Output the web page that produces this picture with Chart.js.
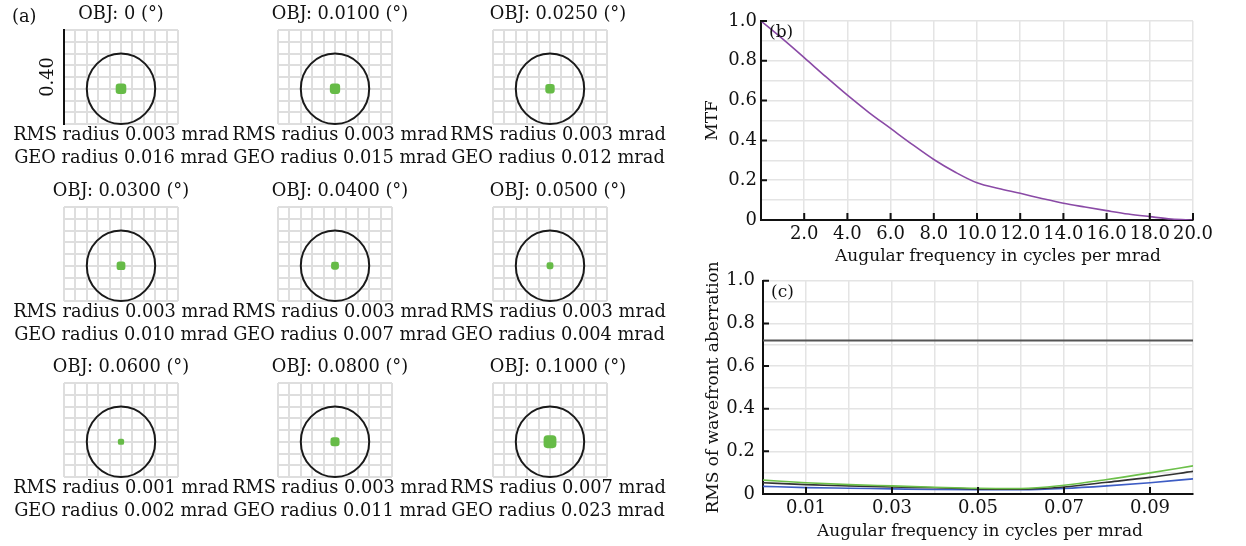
<!DOCTYPE html>
<html>
<head>
<meta charset="utf-8">
<script src="https://cdn.jsdelivr.net/npm/chart.js@4.4.0/dist/chart.umd.min.js"></script>
<style>
  body { margin: 0; background: #fff; width: 1246px; height: 546px; overflow: hidden; position: relative; }
  canvas { position: absolute; }
</style>
</head>
<body>
<script>
// (a) spot diagrams, one per field angle
const spotFields = ['0', '0.0100', '0.0250', '0.0300', '0.0400', '0.0500', '0.0600', '0.0800', '0.1000'];
const rmsRadius = [0.003, 0.003, 0.003, 0.003, 0.003, 0.003, 0.001, 0.003, 0.007];
const geoRadius = [0.016, 0.015, 0.012, 0.010, 0.007, 0.004, 0.002, 0.011, 0.023];
const airyRadius = 0.12;
const spotGridX = [-0.2, -0.16, -0.12, -0.08, -0.04, 0, 0.04, 0.08, 0.12, 0.16, 0.2];
const spotGridY = [-0.12, -0.08, -0.04, 0, 0.04, 0.08, 0.12, 0.16, 0.2];

// (b) MTF
const mtfFreq = [0, 1, 2, 3, 4, 5, 6, 7, 8, 9, 10, 11, 12, 13, 14, 15, 16, 17, 18, 19, 20];
const mtfValue = [1.0, 0.91, 0.816, 0.72, 0.627, 0.54, 0.46, 0.38, 0.304, 0.24, 0.187, 0.158, 0.134, 0.108, 0.084, 0.065, 0.047, 0.03, 0.017, 0.005, 0.0];
const mtfXTicks = [0, 2, 4, 6, 8, 10, 12, 14, 16, 18, 20];
const mtfXLabels = ['', '2.0', '4.0', '6.0', '8.0', '10.0', '12.0', '14.0', '16.0', '18.0', '20.0'];

// (c) RMS wavefront
const rmsX = [0, 0.01, 0.02, 0.03, 0.04, 0.05, 0.06, 0.07, 0.08, 0.09, 0.1];
const rmsGreen = [0.065, 0.053, 0.044, 0.038, 0.032, 0.027, 0.026, 0.041, 0.068, 0.099, 0.132];
const rmsBlack = [0.053, 0.044, 0.038, 0.033, 0.029, 0.024, 0.023, 0.033, 0.055, 0.078, 0.106];
const rmsBlue = [0.036, 0.030, 0.027, 0.024, 0.021, 0.020, 0.020, 0.026, 0.038, 0.053, 0.071];
const rmsLimit = 0.72;
const rmsXTicks = [0, 0.01, 0.02, 0.03, 0.04, 0.05, 0.06, 0.07, 0.08, 0.09, 0.1];
const rmsXLabels = ['', '0.01', '', '0.03', '', '0.05', '', '0.07', '', '0.09', ''];

const yGridTicks = [0, 0.1, 0.2, 0.3, 0.4, 0.5, 0.6, 0.7, 0.8, 0.9, 1.0];
const yGridLabels = ['0', '', '0.2', '', '0.4', '', '0.6', '', '0.8', '', '1.0'];

const FONT = 'DejaVu Serif';
const INK = '#111';

function makeCanvas(left, top, w, h) {
  const c = document.createElement('canvas');
  c.width = w; c.height = h;
  c.style.left = left + 'px'; c.style.top = top + 'px';
  document.body.appendChild(c);
  return c;
}

function fixedTicks(values) {
  return scale => { scale.ticks = values.map(v => ({ value: v })); };
}

// ring + captions for each spot cell
const spotDecor = {
  id: 'spotDecor',
  beforeDatasetsDraw(chart, args, o) {
    const { ctx } = chart;
    const { x, y } = chart.scales;
    const cx = x.getPixelForValue(0), cy = y.getPixelForValue(0);
    const rx = x.getPixelForValue(o.ring) - cx;
    const ry = cy - y.getPixelForValue(o.ring);
    ctx.save();
    ctx.beginPath();
    ctx.ellipse(cx, cy, rx, ry, 0, 0, Math.PI * 2);
    ctx.strokeStyle = '#1a1a1a';
    ctx.lineWidth = 2;
    ctx.stroke();
    ctx.restore();
  },
  afterDraw(chart, args, o) {
    const { ctx, chartArea: a } = chart;
    const mid = (a.left + a.right) / 2 + o.dx;
    ctx.save();
    ctx.fillStyle = INK;
    ctx.textAlign = 'center';
    ctx.textBaseline = 'middle';
    ctx.font = '17.8px "' + FONT + '"';
    ctx.fillText(o.title, mid, a.top - 16);
    ctx.fillText(o.lines[0], mid, a.bottom + 11);
    ctx.fillText(o.lines[1], mid, a.bottom + 34);
    if (o.tag) {
      ctx.textAlign = 'left';
      ctx.fillText(o.tag, 11, 17);
    }
    if (o.size) {
      ctx.translate(a.left - 16, (a.top + a.bottom) / 2);
      ctx.rotate(-Math.PI / 2);
      ctx.textAlign = 'center';
      ctx.fillText(o.size, 0, 0);
    }
    ctx.restore();
  }
};

const colLeft = [1, 215, 430];
const rowTop = [0, 177, 353];
const colShift = [0, 5, 8];

spotFields.forEach((field, i) => {
  const col = i % 3, row = Math.floor(i / 3);
  const cv = makeCanvas(colLeft[col], rowTop[row], 240, 177);
  const geo = geoRadius[i];
  new Chart(cv, {
    type: 'scatter',
    data: {
      datasets: [{
        data: [{ x: 0, y: 0 }],
        pointStyle: 'rectRounded',
        backgroundColor: '#66bb47',
        borderWidth: 0,
        pointRadius: ctx => {
          const s = ctx.chart.scales.x;
          const geoPx = s.getPixelForValue(geo) - s.getPixelForValue(0);
          return (2.8 + 0.55 * geoPx) / 0.858;
        }
      }]
    },
    options: {
      responsive: false,
      animation: false,
      events: [],
      layout: { padding: { left: 63, right: 63, top: 30, bottom: 53 } },
      plugins: {
        legend: { display: false },
        tooltip: { enabled: false },
        spotDecor: {
          ring: airyRadius,
          dx: colShift[col],
          title: 'OBJ: ' + field + ' (°)',
          lines: ['RMS radius ' + rmsRadius[i].toFixed(3) + ' mrad', 'GEO radius ' + geo.toFixed(3) + ' mrad'],
          tag: i === 0 ? '(a)' : null,
          size: i === 0 ? '0.40' : null
        }
      },
      scales: {
        x: {
          type: 'linear', min: -0.2, max: 0.2,
          afterBuildTicks: fixedTicks(spotGridX),
          afterFit: s => { s.height = 0; },
          ticks: { display: false },
          border: { display: false },
          grid: { color: '#dedede', lineWidth: 2, drawTicks: false }
        },
        y: {
          type: 'linear', min: -0.12, max: 0.2,
          afterBuildTicks: fixedTicks(spotGridY),
          afterFit: s => { s.width = 0; },
          ticks: { display: false },
          border: { display: i === 0, color: INK, width: 2 },
          grid: { color: '#dedede', lineWidth: 2, drawTicks: false }
        }
      }
    },
    plugins: [spotDecor]
  });
});

// inward tick marks, the x title and the panel letter
const innerTicks = {
  id: 'innerTicks',
  afterDraw(chart, args, o) {
    const { ctx, chartArea: a, scales } = chart;
    ctx.save();
    ctx.strokeStyle = INK;
    ctx.lineWidth = 2;
    ctx.beginPath();
    o.x.forEach(v => {
      const px = scales.x.getPixelForValue(v);
      ctx.moveTo(px, a.bottom); ctx.lineTo(px, a.bottom - 7);
    });
    o.y.forEach(v => {
      const py = scales.y.getPixelForValue(v);
      ctx.moveTo(a.left, py); ctx.lineTo(a.left + 6, py);
    });
    ctx.stroke();
    ctx.fillStyle = INK;
    ctx.font = '17px "' + FONT + '"';
    ctx.textBaseline = 'middle';
    ctx.fillText(o.tag, a.left + 8, a.top + 12);
    ctx.textAlign = 'center';
    ctx.fillText(o.xTitle, (a.left + a.right) / 2 + o.xTitleShift, a.bottom + o.xTitleDrop);
    ctx.restore();
  }
};

function labelFrom(values, labels) {
  return v => {
    const k = values.findIndex(t => Math.abs(t - v) < 1e-9);
    return k < 0 ? '' : labels[k];
  };
}

function panelOptions(cfg) {
  return {
    responsive: false,
    animation: false,
    events: [],
    layout: { padding: { top: cfg.padTop, right: 53, bottom: 0, left: 0 } },
    plugins: {
      legend: { display: false },
      tooltip: { enabled: false },
      innerTicks: {
        x: cfg.markX, y: [0.2, 0.4, 0.6, 0.8, 1.0], tag: cfg.tag,
        xTitle: 'Augular frequency in cycles per mrad', xTitleShift: cfg.xTitleShift, xTitleDrop: cfg.xTitleDrop
      }
    },
    scales: {
      x: {
        type: 'linear', min: cfg.xMin, max: cfg.xMax,
        afterBuildTicks: fixedTicks(cfg.xTicks),
        afterFit: s => { s.height = 52; },
        ticks: { autoSkip: false, maxRotation: 0, padding: 4, color: INK, font: { family: FONT, size: 18 }, callback: labelFrom(cfg.xTicks, cfg.xLabels) },
        grid: { color: '#e4e4e4', lineWidth: 1.5, drawTicks: false },
        border: { color: INK, width: 2 }
      },
      y: {
        type: 'linear', min: 0, max: 1,
        afterBuildTicks: fixedTicks(yGridTicks),
        afterFit: s => { s.width = cfg.yWidth; },
        ticks: { autoSkip: false, padding: cfg.yTickPad, color: INK, font: { family: FONT, size: 18 }, callback: labelFrom(yGridTicks, yGridLabels) },
        grid: { color: '#e4e4e4', lineWidth: 1.5, drawTicks: false },
        border: { color: INK, width: 2 },
        title: { display: true, text: cfg.yTitle, color: INK, font: { family: FONT, size: 17 }, padding: { top: cfg.yTitlePad, bottom: 0 } }
      }
    }
  };
}

// (b)
new Chart(makeCanvas(700, 0, 546, 272), {
  type: 'line',
  data: {
    datasets: [{
      data: mtfFreq.map((f, k) => ({ x: f, y: mtfValue[k] })),
      borderColor: '#8a4aa6',
      borderWidth: 1.6,
      pointRadius: 0,
      cubicInterpolationMode: 'monotone'
    }]
  },
  options: panelOptions({
    padTop: 21, xMin: 0, xMax: 20, xTicks: mtfXTicks, xLabels: mtfXLabels,
    markX: [2, 4, 6, 8, 10, 12, 14, 16, 18, 20], tag: '(b)',
    yWidth: 61, yTickPad: 4, yTitle: 'MTF', yTitlePad: 2,
    xTitleShift: 21, xTitleDrop: 37
  }),
  plugins: [innerTicks]
});

// (c)
const rmsLine = (vals, color) => ({
  data: rmsX.map((f, k) => ({ x: f, y: vals[k] })),
  borderColor: color,
  borderWidth: 1.6,
  pointRadius: 0,
  cubicInterpolationMode: 'monotone'
});

new Chart(makeCanvas(700, 262, 546, 284), {
  type: 'line',
  data: {
    datasets: [
      { data: [{ x: rmsX[0], y: rmsLimit }, { x: rmsX[rmsX.length - 1], y: rmsLimit }], borderColor: '#555', borderWidth: 2, pointRadius: 0 },
      rmsLine(rmsGreen, '#6cc04a'),
      rmsLine(rmsBlack, '#333333'),
      rmsLine(rmsBlue, '#3d5cc4')
    ]
  },
  options: panelOptions({
    padTop: 13, xMin: 0, xMax: 0.1, xTicks: rmsXTicks, xLabels: rmsXLabels,
    markX: [0.01, 0.03, 0.05, 0.07, 0.09], tag: '(c)',
    yWidth: 63, yTickPad: 8, yTitle: 'RMS of wavefront aberration', yTitlePad: 3,
    xTitleShift: 2, xTitleDrop: 38
  }),
  plugins: [innerTicks]
});
</script>
</body>
</html>
